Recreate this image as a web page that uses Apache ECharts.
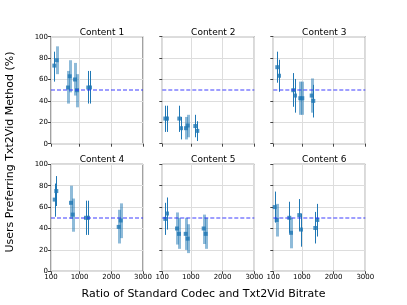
<!DOCTYPE html>
<html><head><meta charset="utf-8">
<script src="https://cdn.jsdelivr.net/npm/echarts@6/dist/echarts.min.js"></script>
<style>html,body{margin:0;padding:0;background:#fff}#c{width:407px;height:305px}</style>
</head><body><div id="c"></div>
<script>
// ---- data: [x ratio, mean %, lower %, upper %] ----
const titles = ['Content 1','Content 2','Content 3','Content 4','Content 5','Content 6'];
const xTicks = [100, 1000, 2000, 3000];
const yTicks = [0, 20, 40, 60, 80, 100];
const refLine = 50;

const content1Dark  = [[205,73,58,86],[1275,52.5,37.5,68],[1330,52.5,37.5,68]];
const content1Light = [[280,78,65,91],[635,52.5,37.5,68],[690,63,48,78],[855,60,45,75.5],[920,50,34,65]];
const content2Dark  = [[195,23.5,11,35.5],[248,23.5,11,35.5],[636,23.5,11,35.5],[689,14.5,4,25],[1140,16.5,6,27],[1203,12,2.5,21]];
const content2Light = [[847,14.5,4,25],[900,17,6,27]];
const content3Dark  = [[226,71.5,57,86],[280,63.5,48.5,78.5],[730,50,34.5,66],[784,45,29,60.5],[1360,40,24.5,55]];
const content3Light = [[951,42.5,27,58],[1014,42.5,27,58],[1310,45,29,61]];
const content4Dark  = [[217,67,51,82],[267,75,61,89],[1203,50,34,66],[1266,50,34,66]];
const content4Light = [[730,64,49,80],[784,53,37,68],[2234,41.5,26,57.5],[2297,47.5,31,63.5]];
const content5Dark  = [[195,49,34,64],[248,54,39,69]];
const content5Light = [[563,40,25,55],[626,35,21,50],[838,35,20,50],[900,30.5,17,44],[1405,40,25.5,53],[1468,35,21,50]];
const content6Dark  = [[144,60,45.5,74.5],[604,50,36,65],[919,52.5,38,67.5],[973,39,23,54],[1424,40.5,26,55.5],[1487,48,32.5,63]];
const content6Light = [[207,48,32.5,63],[658,36,21.5,50]];

const darkSets  = [content1Dark, content2Dark, content3Dark, content4Dark, content5Dark, content6Dark];
const lightSets = [content1Light, content2Light, content3Light, content4Light, content5Light, content6Light];

// ---- layout ----
const FONT = 'DejaVu Sans';
const colLeft = [51, 162.3, 273.3];
const rowTop = [36.7, 164.3];
const W = 92, H = 107;
const BLUE = '#1f77b4';

const grids = [], xAxes = [], yAxes = [], series = [], titleOpts = [];
function errRenderer(color, width) {
  return function (params, api) {
    const x = api.value(0);
    const p1 = api.coord([x, api.value(2)]);
    const p2 = api.coord([x, api.value(3)]);
    const px = Math.round(p1[0]) + (width % 2 === 1 ? 0.5 : 0);
    return { type: 'line', shape: { x1: px, y1: p1[1], x2: px, y2: p2[1] },
             style: { stroke: color, lineWidth: width, fill: null, lineCap: 'butt' } };
  };
}
for (let i = 0; i < 6; i++) {
  const r = Math.floor(i / 3), c = i % 3;
  grids.push({ left: colLeft[c], top: rowTop[r], width: W, height: H, show: true,
               borderColor: '#444', borderWidth: 1, backgroundColor: 'transparent', containLabel: false });
  xAxes.push({ gridIndex: i, type: 'value', min: xTicks[0], max: xTicks[xTicks.length - 1],
    axisLine: { show: false },
    axisTick: { show: true, customValues: xTicks, length: 3, lineStyle: { color: '#444' } },
    axisLabel: { show: r === 1, customValues: xTicks, formatter: v => String(v),
      fontFamily: FONT, fontSize: 7, color: '#000', margin: 2 },
    splitLine: { show: true, lineStyle: { color: '#dddddd', width: 1 } } });
  yAxes.push({ gridIndex: i, type: 'value', min: yTicks[0], max: yTicks[yTicks.length - 1], interval: 20,
    axisLine: { show: false },
    axisTick: { show: true, length: 3, lineStyle: { color: '#444' } },
    axisLabel: { show: c === 0, fontFamily: FONT, fontSize: 7, color: '#000', margin: 3 },
    splitLine: { show: true, lineStyle: { color: '#dddddd', width: 1 } } });
  titleOpts.push({ text: titles[i], left: colLeft[c] + W / 2, top: rowTop[r] - 14, textAlign: 'center',
    textStyle: { fontFamily: FONT, fontSize: 9, fontWeight: 'normal', color: '#000' } });

  series.push({ type: 'custom', xAxisIndex: i, yAxisIndex: i, data: lightSets[i],
    renderItem: errRenderer('rgba(31,119,180,0.5)', 3), silent: true, z: 2,
    encode: { x: 0, y: [1, 2, 3] },
    markLine: { silent: true, symbol: 'none', label: { show: false },
      lineStyle: { color: 'rgba(40,40,255,0.6)', type: [4, 2], width: 1.5 },
      data: [{ yAxis: refLine }] } });
  series.push({ type: 'custom', xAxisIndex: i, yAxisIndex: i, data: darkSets[i],
    renderItem: errRenderer(BLUE, 1), silent: true, z: 3, encode: { x: 0, y: [1, 2, 3] } });
  series.push({ type: 'scatter', xAxisIndex: i, yAxisIndex: i, symbol: 'rect', symbolSize: 4,
    itemStyle: { color: BLUE }, z: 4, silent: true,
    data: darkSets[i].concat(lightSets[i]).map(d => [d[0], d[1]]) });
}

const chart = echarts.init(document.getElementById('c'), null, { renderer: 'canvas' });
chart.setOption({
  animation: false,
  title: titleOpts,
  grid: grids, xAxis: xAxes, yAxis: yAxes, series: series,
  graphic: [
    { type: 'text', left: 'center', top: 289, style: { text: 'Ratio of Standard Codec and Txt2Vid Bitrate',
      font: '11px "DejaVu Sans"', fill: '#000' } },
    { type: 'text', x: 10, y: 152, rotation: Math.PI / 2, style: { text: 'Users Preferring Txt2Vid Method (%)',
      font: '11px "DejaVu Sans"', fill: '#000', align: 'center', verticalAlign: 'middle' } }
  ]
});
</script></body></html>
